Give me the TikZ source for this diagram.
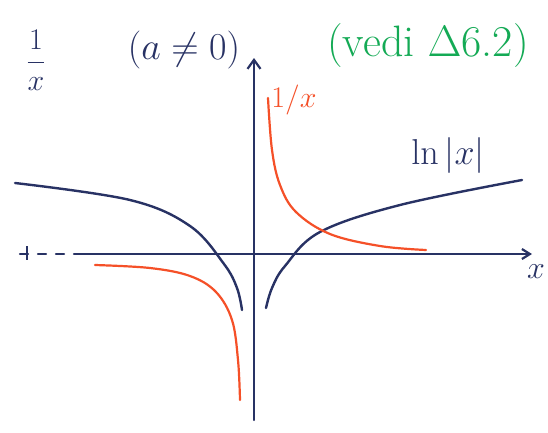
\RequirePackage{fix-cm}
\documentclass[tikz,border=0pt]{standalone}
\usetikzlibrary{arrows.meta}
\definecolor{ink}{RGB}{40,50,100}
\definecolor{redink}{RGB}{245,80,40}
\definecolor{greenink}{RGB}{20,170,85}
\tikzset{
  axisline/.style={ink, line width=2.2pt, line cap=round},
  lncurve/.style={ink, line width=2.4pt, line cap=round},
  invcurve/.style={redink, line width=2.2pt, line cap=round},
  handtext/.style={inner sep=0pt},
}
\begin{document}
\begin{tikzpicture}[x=1pt,y=-1pt]
\useasboundingbox (0,0) rectangle (548,432);
\fill[white] (0,0) rectangle (548,432);
% axes
\coordinate (xl) at (20,254);
\coordinate (xm) at (82,254);
\coordinate (xr) at (532,254);
\coordinate (yb) at (254,420);
\coordinate (yt) at (254,58);
\draw[axisline, dashed, dash pattern=on 8pt off 10pt] (xl) -- (xm);
\draw[axisline, -{Straight Barb[length=8pt,width=10pt]}] (xm) -- (xr);
\draw[axisline, -{Straight Barb[length=9pt,width=13pt]}] (yb) -- (yt);
\draw[ink, line width=1.4pt] (27,246) -- (27,260);
% ln|x|
\draw[lncurve] plot[smooth, tension=0.6] coordinates {(266,308) (272,288) (285,266) (320,232) (400,205) (522,180)};
\draw[lncurve] plot[smooth, tension=0.6] coordinates {(15,183) (130,200) (190,226) (224,264) (237,288) (242,310)};
% 1/x
\draw[invcurve] plot[smooth, tension=0.6] coordinates {(268,98) (272,150) (280,185) (296,212) (330,234) (380,246) (426,250)};
\draw[invcurve] plot[smooth, tension=0.6] coordinates {(95,265) (150,268) (190,276) (216,292) (232,320) (238,360) (240,400)};
% labels
\node[handtext, ink, font=\fontsize{30}{32}\selectfont] (frac) at (36,60) {$\displaystyle\frac{1}{x}$};
\node[handtext, ink, font=\fontsize{38}{40}\selectfont] (cond) at (184,50) {$(a\neq 0)$};
\node[handtext, greenink, font=\fontsize{44}{46}\selectfont] (vedi) at (428,46) {(vedi $\Delta$6.2)};
\node[handtext, redink, font=\fontsize{30}{32}\selectfont] (invlab) at (294,100) {$1/x$};
\node[handtext, ink, font=\fontsize{36}{38}\selectfont] (lnlab) at (448,155) {$\ln|x|$};
\node[handtext, ink, font=\fontsize{32}{34}\selectfont] (xlab) at (536,272) {$x$};
\end{tikzpicture}
\end{document}
